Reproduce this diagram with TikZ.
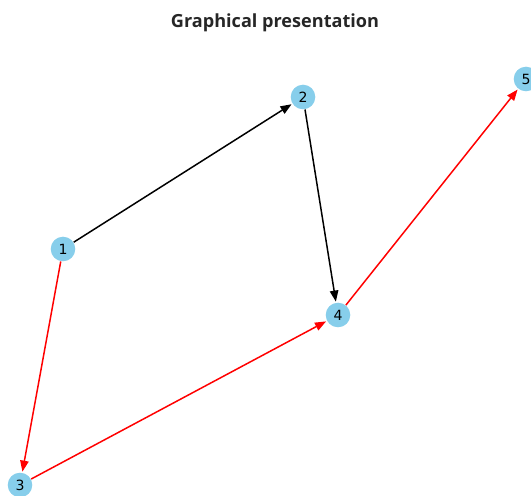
\documentclass[tikz,border=0pt]{standalone}
\usepackage{fontspec}
\setmainfont{DejaVu Sans}
\newfontfamily\titlefont{Open Sans}
\usetikzlibrary{arrows.meta}
\definecolor{skyblue}{HTML}{87CEEB}
\definecolor{titlegray}{HTML}{262626}
\tikzset{
  vertex/.style={
    inner sep = 0pt,
    shape = circle,
    minimum size = 14pt,
    fill = skyblue,
    font = \fontsize{8}{9}\selectfont
  },
  arc/.style={
    line width = 0.85pt,
    -{Triangle[length=6.3pt,width=4.8pt]},
    shorten >= 0.5pt
  },
  redarc/.style={
    arc,
    draw = red
  },
}
\begin{document}
\begin{tikzpicture}[x=0.02cm,y=-0.02cm]
\useasboundingbox (0,0) rectangle (531,496);
\node[text=titlegray, font=\titlefont\bfseries\fontsize{10.3}{12}\selectfont] (title) at (275,23) {Graphical presentation};
\node[vertex] (v1) at (63,249) {1};
\node[vertex] (v2) at (303,97) {2};
\node[vertex] (v3) at (20,485) {3};
\node[vertex] (v4) at (338,315) {4};
\node[vertex] (v5) at (526,79) {5};
		  \foreach \a/\b in {v1/v2,v2/v4}{
		    \draw[arc] (\a) -- (\b); }
		  \foreach \a/\b in {v1/v3,v3/v4,v4/v5}{
		    \draw[redarc] (\a) -- (\b); }
\end{tikzpicture}
\end{document}
